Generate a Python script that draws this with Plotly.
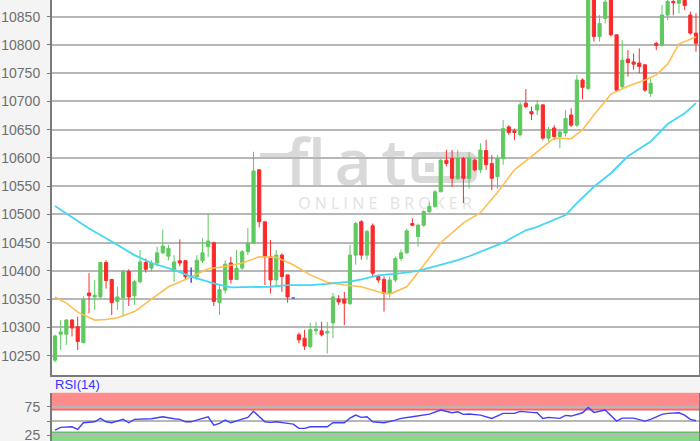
import plotly.graph_objects as go

# ---------------- data ----------------
candle_idx = list(range(1, 115))
opens = [10242, 10288, 10288, 10313, 10301, 10273, 10361, 10354, 10354, 10415,
         10385, 10346, 10353, 10399, 10356, 10381, 10415, 10405, 10414, 10432,
         10426, 10401, 10418, 10418, 10390, 10390, 10418, 10443, 10450, 10344,
         10366, 10414, 10385, 10405, 10434, 10449, 10579, 10487, 10425, 10384,
         10428, 10393, 10352, 10287, 10281, 10266, 10294, 10294, 10290, 10308,
         10350, 10350, 10342, 10428, 10487, 10428, 10480, 10390, 10385, 10360,
         10384, 10422, 10432, 10484, 10461, 10481, 10505, 10514, 10540, 10596,
         10599, 10564, 10599, 10564, 10596, 10579, 10613, 10590, 10567, 10599,
         10655, 10648, 10641, 10697, 10682, 10685, 10694, 10635, 10653, 10638,
         10644, 10676, 10658, 10738, 10723, 10890, 10815, 10847, 10885, 10818,
         10726, 10775, 10770, 10768, 10765, 10714, 10803, 10800, 10853, 10877,
         10874, 10885, 10853, 10821]
highs = [10287, 10313, 10315, 10315, 10319, 10355, 10396, 10384, 10416, 10419,
         10386, 10372, 10402, 10403, 10384, 10437, 10422, 10419, 10443, 10473,
         10446, 10428, 10456, 10419, 10406, 10428, 10458, 10502, 10452, 10375,
         10419, 10425, 10437, 10437, 10476, 10611, 10580, 10487, 10455, 10437,
         10431, 10393, 10352, 10291, 10296, 10308, 10310, 10310, 10310, 10361,
         10357, 10363, 10446, 10487, 10490, 10473, 10484, 10393, 10390, 10390,
         10425, 10438, 10475, 10493, 10484, 10508, 10521, 10543, 10598, 10614,
         10614, 10614, 10602, 10611, 10599, 10626, 10632, 10605, 10605, 10667,
         10658, 10652, 10700, 10722, 10691, 10703, 10694, 10655, 10658, 10650,
         10685, 10688, 10747, 10741, 10905, 10900, 10853, 10895, 10895, 10818,
         10809, 10791, 10785, 10794, 10765, 10741, 10806, 10871, 10890, 10890,
         10895, 10895, 10859, 10856]
lows = [10238, 10260, 10269, 10284, 10260, 10272, 10325, 10331, 10352, 10369,
        10322, 10331, 10319, 10338, 10340, 10378, 10397, 10399, 10408, 10430,
        10419, 10381, 10408, 10384, 10379, 10384, 10414, 10425, 10338, 10322,
        10360, 10378, 10384, 10402, 10428, 10449, 10477, 10375, 10360, 10372,
        10363, 10344, 10352, 10272, 10260, 10263, 10287, 10284, 10254, 10281,
        10340, 10304, 10340, 10411, 10420, 10420, 10390, 10379, 10328, 10353,
        10380, 10418, 10430, 10479, 10443, 10478, 10502, 10512, 10540, 10585,
        10549, 10561, 10520, 10546, 10576, 10573, 10579, 10543, 10546, 10588,
        10641, 10632, 10638, 10688, 10667, 10676, 10632, 10629, 10632, 10617,
        10638, 10655, 10655, 10704, 10720, 10806, 10806, 10838, 10815, 10717,
        10723, 10744, 10756, 10750, 10717, 10708, 10791, 10797, 10844, 10853,
        10856, 10862, 10818, 10788]
closes = [10285, 10292, 10313, 10299, 10275, 10349, 10356, 10357, 10415, 10383,
          10344, 10354, 10399, 10354, 10381, 10416, 10403, 10414, 10432, 10444,
          10440, 10416, 10414, 10390, 10390, 10419, 10432, 10453, 10346, 10367,
          10412, 10385, 10405, 10434, 10449, 10577, 10487, 10425, 10384, 10428,
          10390, 10354, 10352, 10278, 10267, 10296, 10297, 10287, 10293, 10354,
          10345, 10343, 10428, 10484, 10428, 10470, 10396, 10384, 10360, 10384,
          10422, 10432, 10471, 10481, 10481, 10505, 10514, 10540, 10596, 10590,
          10564, 10599, 10564, 10599, 10579, 10614, 10588, 10564, 10599, 10652,
          10645, 10645, 10694, 10691, 10678, 10694, 10635, 10650, 10638, 10646,
          10670, 10658, 10738, 10725, 10890, 10815, 10838, 10876, 10818, 10720,
          10773, 10769, 10766, 10762, 10720, 10732, 10799, 10853, 10877, 10875,
          10885, 10870, 10821, 10803]

ma_fast_idx = [1, 3, 5, 8, 10, 12, 15, 18, 21, 24, 26, 28, 31, 34, 37, 40, 43, 46, 49, 52,
               55, 58, 60, 63, 66, 69, 73, 76, 79, 82, 85, 89, 92, 94, 96, 99, 102, 105, 107, 109,
               111, 114]
ma_fast = [10354, 10343, 10327, 10313, 10314, 10317, 10328, 10350, 10372, 10385,
           10395, 10404, 10408, 10414, 10425, 10424, 10411, 10393, 10380, 10375,
           10372, 10363, 10359, 10372, 10410, 10450, 10485, 10503, 10539, 10579,
           10603, 10635, 10634, 10650, 10676, 10713, 10727, 10738, 10747, 10766,
           10802, 10814]

ma_slow_idx = [1, 3, 7, 11, 15, 18, 22, 25, 29, 32, 35, 39, 42, 46, 49, 53, 55, 58, 62, 65,
               68, 72, 74, 76, 80, 84, 86, 91, 93, 96, 99, 102, 106, 109, 112, 114]
ma_slow = [10515, 10502, 10475, 10452, 10428, 10414, 10402, 10390, 10378, 10371,
           10372, 10372, 10375, 10375, 10377, 10381, 10385, 10392, 10396, 10400,
           10408, 10419, 10426, 10434, 10450, 10472, 10478, 10499, 10520, 10549,
           10573, 10603, 10629, 10660, 10679, 10697]

rsi_idx = [1, 2, 4, 5, 6, 8, 9, 10, 11, 13, 14, 15, 18, 20, 22, 23, 24, 25, 27, 28,
           29, 30, 31, 32, 34, 35, 36, 37, 38, 39, 40, 42, 43, 44, 45, 46, 49, 50, 52, 53,
           54, 55, 56, 57, 59, 61, 62, 64, 67, 69, 71, 72, 73, 74, 76, 78, 80, 82, 83, 85,
           86, 87, 88, 90, 91, 92, 94, 95, 96, 98, 99, 100, 101, 103, 105, 106, 108, 109, 111, 112,
           113, 114]
rsi = [34, 38.7, 39.8, 35.2, 46.9, 48.6, 54.6, 48.6, 46.9, 52.9,
       46.9, 52.9, 53.9, 57.4, 53.9, 52.9, 48.6, 48.6, 54.6, 57.4,
       42.8, 45.8, 51.6, 46.9, 53.4, 56.4, 67, 57.4, 48.6, 47.6,
       48.6, 45.8, 44.6, 37, 37, 39.8, 39.8, 46.9, 46.9, 55.1,
       60.4, 56.4, 57.4, 48.6, 46.9, 51.6, 54.6, 57.4, 62.2, 69.3,
       64.5, 66.3, 61.7, 62.2, 60.4, 54.6, 63.4, 63.4, 67, 65.2,
       64.5, 54.6, 56.4, 54.6, 59.9, 58.7, 64.5, 74, 65.2, 69.3,
       60.4, 49.9, 55.1, 55.1, 49.9, 52.9, 61.7, 63.4, 64.5, 60.4,
       52.9, 50.4]

price_ticks = [10250, 10300, 10350, 10400, 10450, 10500, 10550, 10600, 10650, 10700, 10750, 10800, 10850]
rsi_ticks = [25, 50, 75]
rsi_tick_text = ["25", "", "75"]
rsi_overbought = [70, 100]
rsi_oversold = [0, 30]

# ---------------- styles ----------------
GREEN = "#5fc95f"
RED = "#fb2a2a"
DOJI = "#4a4ae8"
ORANGE = "#ffbf50"
CYAN = "#45d6f2"
RSI_BLUE = "#3f3fff"
GRID = "#b7b7b7"
AXIS = "#7a7a7a"
W, H = 700, 441
ML, MR = 52, 1
PW = W - ML - MR


def px_x(x):
    return (x - ML) / PW


def px_y(y):
    return (H - y) / H


is_doji = [o == c for o, c in zip(opens, closes)]
sel = [i for i, d in enumerate(is_doji) if not d]
dsel = [i for i, d in enumerate(is_doji) if d]

fig = go.Figure()
fig.add_trace(go.Candlestick(
    x=[candle_idx[i] for i in sel],
    open=[opens[i] for i in sel], high=[highs[i] for i in sel],
    low=[lows[i] for i in sel], close=[closes[i] for i in sel],
    increasing=dict(line=dict(color=GREEN, width=1), fillcolor=GREEN),
    decreasing=dict(line=dict(color=RED, width=1), fillcolor=RED),
    whiskerwidth=0, hoverinfo="skip", xaxis="x", yaxis="y"))
fig.add_trace(go.Candlestick(
    x=[candle_idx[i] for i in dsel],
    open=[opens[i] for i in dsel], high=[highs[i] for i in dsel],
    low=[lows[i] for i in dsel], close=[closes[i] for i in dsel],
    increasing=dict(line=dict(color=DOJI, width=1.5), fillcolor=DOJI),
    decreasing=dict(line=dict(color=DOJI, width=1.5), fillcolor=DOJI),
    whiskerwidth=0, hoverinfo="skip", xaxis="x", yaxis="y"))
fig.add_trace(go.Scatter(x=ma_fast_idx, y=ma_fast, mode="lines",
                         line=dict(color=ORANGE, width=1.6), hoverinfo="skip",
                         xaxis="x", yaxis="y"))
fig.add_trace(go.Scatter(x=ma_slow_idx, y=ma_slow, mode="lines",
                         line=dict(color=CYAN, width=1.8), hoverinfo="skip",
                         xaxis="x", yaxis="y"))
fig.add_trace(go.Scatter(x=rsi_idx, y=rsi, mode="lines",
                         line=dict(color=RSI_BLUE, width=1.4), hoverinfo="skip",
                         xaxis="x2", yaxis="y2"))

shapes = []
# RSI zones
shapes.append(dict(type="rect", xref="x2 domain", yref="y2", x0=0, x1=1,
                   y0=rsi_overbought[0], y1=rsi_overbought[1],
                   fillcolor="#ff8c8c", line=dict(width=0), layer="below"))
shapes.append(dict(type="rect", xref="x2 domain", yref="y2", x0=0, x1=1,
                   y0=rsi_oversold[0], y1=rsi_oversold[1],
                   fillcolor="#8cd78c", line=dict(width=0), layer="below"))
shapes.append(dict(type="line", xref="x2 domain", yref="y2", x0=0, x1=1,
                   y0=rsi_overbought[0], y1=rsi_overbought[0],
                   line=dict(color="#e06d6d", width=1.5), layer="below"))
shapes.append(dict(type="line", xref="x2 domain", yref="y2", x0=0, x1=1,
                   y0=rsi_oversold[1], y1=rsi_oversold[1],
                   line=dict(color="#66bf66", width=1.5), layer="below"))

# watermark ("flat" + logo box + ONLINE BROKER)
WM = "#d9d9d9"
for letter, cx in [("f", 297), ("l", 317), ("a", 353), ("t", 394)]:
    shapes.append(dict(type="rect", xref="paper", yref="paper",
                       x0=px_x(cx - 25), x1=px_x(cx + 25), y0=px_y(198), y1=px_y(131),
                       line=dict(width=0), fillcolor="rgba(0,0,0,0)", layer="below",
                       label=dict(text=letter, textposition="middle center",
                                  font=dict(family="Open Sans", size=64, color=WM,
                                            weight=600))))
shapes.append(dict(type="rect", xref="paper", yref="paper",
                   x0=px_x(260), x1=px_x(292), y0=px_y(159), y1=px_y(153),
                   line=dict(width=0), fillcolor=WM, layer="below"))
bx0, bx1, by0, by1, r = 415, 473.5, 155.5, 179.5, 6
path = (f"M {px_x(bx0 + r)},{px_y(by0)} L {px_x(bx1 - r)},{px_y(by0)} "
        f"Q {px_x(bx1)},{px_y(by0)} {px_x(bx1)},{px_y(by0 + r)} "
        f"L {px_x(bx1)},{px_y(by1 - r)} Q {px_x(bx1)},{px_y(by1)} {px_x(bx1 - r)},{px_y(by1)} "
        f"L {px_x(bx0 + r)},{px_y(by1)} Q {px_x(bx0)},{px_y(by1)} {px_x(bx0)},{px_y(by1 - r)} "
        f"L {px_x(bx0)},{px_y(by0 + r)} Q {px_x(bx0)},{px_y(by0)} {px_x(bx0 + r)},{px_y(by0)} Z")
shapes.append(dict(type="path", xref="paper", yref="paper", path=path,
                   line=dict(color=WM, width=7), layer="below"))
shapes.append(dict(type="rect", xref="paper", yref="paper",
                   x0=px_x(425), x1=px_x(434), y0=px_y(172), y1=px_y(163),
                   line=dict(width=0), fillcolor=WM, layer="below"))
shapes.append(dict(type="rect", xref="paper", yref="paper",
                   x0=px_x(280), x1=px_x(490), y0=px_y(213), y1=px_y(195),
                   line=dict(width=0), fillcolor="rgba(0,0,0,0)", layer="below",
                   label=dict(text="\u00a0".join("ONLINE") + "\u00a0\u00a0\u00a0" + "\u00a0".join("BROKER"),
                              textposition="middle center",
                              font=dict(family="Open Sans", size=16, color="#e2e2e2"))))

x_range = [0.47, 114.53]
fig.update_layout(
    width=W, height=H,
    margin=dict(l=ML, r=MR, t=0, b=0, autoexpand=False),
    paper_bgcolor="#f4f4f4", plot_bgcolor="#ffffff",
    showlegend=False, hovermode=False, boxgap=0.2,
    font=dict(family="Liberation Sans, Arial, sans-serif", size=14, color="#6e6e6e"),
    xaxis=dict(domain=[0, 1], range=x_range, anchor="y", showgrid=False, zeroline=False,
               showticklabels=False, ticks="", showline=True, linecolor=AXIS, linewidth=2,
               rangeslider=dict(visible=False), fixedrange=True, automargin=False),
    yaxis=dict(domain=[px_y(375), 1], range=[10215.8, 10879.6], anchor="x",
               tickvals=price_ticks, tickformat="d", showgrid=True, gridcolor=GRID, gridwidth=2,
               zeroline=False, showline=True, linecolor=AXIS, linewidth=2, mirror=True,
               ticks="outside", ticklen=3, tickcolor=AXIS, tickwidth=1, automargin=False,
               ticklabelstandoff=4, ticklabeloverflow="allow",
               tickfont=dict(size=14, color="#6e6e6e")),
    xaxis2=dict(domain=[0, 1], range=x_range, anchor="y2", showgrid=False, zeroline=False,
                showticklabels=False, ticks="", showline=False, automargin=False),
    yaxis2=dict(domain=[0, px_y(392.6)], range=[14.8, 100], anchor="x2",
                tickvals=rsi_ticks, ticktext=rsi_tick_text, showgrid=True, gridcolor=GRID,
                gridwidth=2, zeroline=False, showline=True, linecolor=AXIS, linewidth=2,
                mirror=True, ticks="outside", ticklen=3, tickcolor=AXIS, automargin=False,
                ticklabelstandoff=4, ticklabeloverflow="allow",
                tickfont=dict(size=14, color="#6e6e6e")),
    shapes=shapes,
    annotations=[dict(text="RSI(14)", xref="paper", yref="paper", x=px_x(53), y=px_y(384),
                      xanchor="left", yanchor="middle", showarrow=False,
                      font=dict(size=13, color="#3434ff"))],
)

fig.write_html("out.html", config={"displayModeBar": False},
               post_script="document.body.style.margin='0';document.body.style.overflow='hidden';")
